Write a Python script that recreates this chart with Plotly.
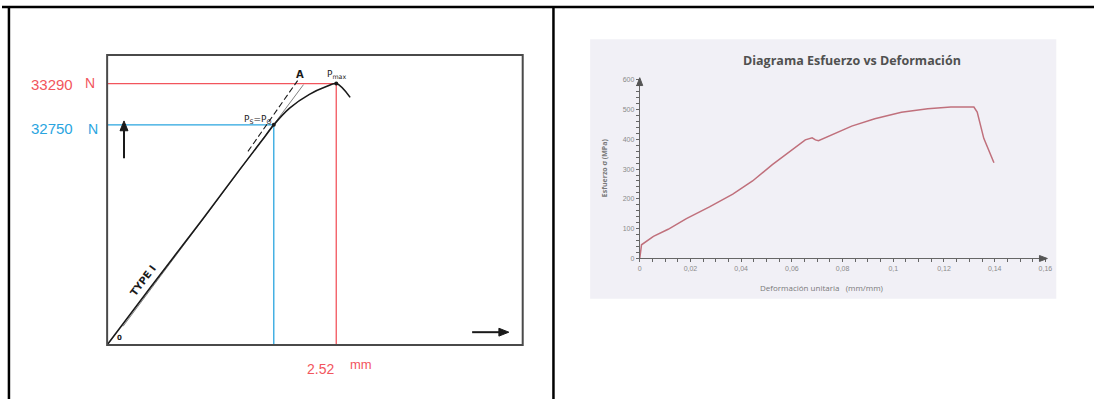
import plotly.graph_objects as go

W, H = 1101, 402

# ---- Left: offset-yield load/displacement diagram ----
disp_mm = [0, 0.48, 1.025, 1.462, 1.702, 1.833, 2.007, 2.225, 2.411, 2.52, 2.673]
load_N = [29870, 30629, 31477, 32171, 32544, 32750, 32969, 33149, 33251, 33290, 33110]
tangent_disp = [0.175, 2.16]
tangent_load = [30114, 33277]
offset_disp = [1.549, 2.095]
offset_load = [32403, 33329]
p_max_N = 33290
p_s_N = 32750
d_pmax_mm = 2.52
d_ps_mm = 1.833
disp_range = [0, 4.571]
load_range = [29870, 33663]

# ---- Right: stress vs unit strain ----
strain = [0, 0.0003, 0.0007, 0.0054, 0.0112, 0.0184, 0.0275, 0.0367, 0.0445, 0.0523,
          0.0601, 0.0653, 0.068, 0.0693, 0.0705, 0.0758, 0.0836, 0.0927, 0.1032, 0.1136,
          0.1227, 0.1318, 0.1331, 0.1357, 0.1377, 0.1397]
stress = [0, 30, 46, 74, 98, 134, 173, 216, 260, 315,
          365, 398, 405, 398, 395, 414, 444, 469, 491, 502,
          508, 508, 491, 403, 365, 321]
x_tick_vals = [0, 0.02, 0.04, 0.06, 0.08, 0.1, 0.12, 0.14, 0.16]
x_tick_labels = ["0", "0,02", "0,04", "0,06", "0,08", "0,1", "0,12", "0,14", "0,16"]
y_tick_vals = [0, 100, 200, 300, 400, 500, 600]
y_tick_labels = ["0", "100", "200", "300", "400", "500", "600"]


def px(x):
    return x / W


def py(y):
    return 1 - y / H


def path(points):
    return "M " + " L ".join(f"{px(x):.5f},{py(y):.5f}" for x, y in points) + " Z"


RED = "#f2555d"
BLUE = "#2aa5df"
INK = "#1a1a1a"
AXIS = "#666666"

fig = go.Figure()

# guide lines from the labelled values
fig.add_trace(go.Scatter(x=[0, d_pmax_mm, d_pmax_mm], y=[p_max_N, p_max_N, load_range[0]],
                         mode="lines", line=dict(color=RED, width=1.3), xaxis="x", yaxis="y"))
fig.add_trace(go.Scatter(x=[0, d_ps_mm, d_ps_mm], y=[p_s_N, p_s_N, load_range[0]],
                         mode="lines", line=dict(color=BLUE, width=1.3), xaxis="x", yaxis="y"))
# tangent and offset construction lines
fig.add_trace(go.Scatter(x=tangent_disp, y=tangent_load, mode="lines",
                         line=dict(color="#808080", width=1), xaxis="x", yaxis="y"))
fig.add_trace(go.Scatter(x=offset_disp, y=offset_load, mode="lines",
                         line=dict(color=INK, width=1.1, dash="6px,3px"), xaxis="x", yaxis="y"))
# measured curve
fig.add_trace(go.Scatter(x=disp_mm, y=load_N, mode="lines", line=dict(color=INK, width=1.6),
                         line_shape="spline", xaxis="x", yaxis="y"))
fig.add_trace(go.Scatter(x=[d_ps_mm, d_pmax_mm], y=[p_s_N, p_max_N], mode="markers",
                         marker=dict(color=INK, size=4), xaxis="x", yaxis="y"))

# stress-strain curve
fig.add_trace(go.Scatter(x=strain, y=stress, mode="lines", line=dict(color="#c0707c", width=1.5),
                         xaxis="x2", yaxis="y2"))

tick_font = dict(family="Liberation Sans", size=7, color="#8a8a8a")

fig.update_layout(
    width=W, height=H,
    margin=dict(l=0, r=0, t=0, b=0),
    paper_bgcolor="white", plot_bgcolor="rgba(0,0,0,0)",
    showlegend=False,
    xaxis=dict(domain=[px(106), px(525)], range=disp_range, visible=False, fixedrange=True),
    yaxis=dict(domain=[py(347), py(52)], range=load_range, visible=False, fixedrange=True),
    xaxis2=dict(domain=[px(643), px(1052)], range=[0, 0.16], anchor="y2",
                showgrid=False, zeroline=False, showline=True, linecolor=AXIS, linewidth=1,
                ticks="outside", ticklen=3, tickcolor=AXIS,
                tickvals=x_tick_vals, ticktext=x_tick_labels, tickfont=tick_font,
                minor=dict(tick0=0, dtick=0.005, ticks="outside", ticklen=3, tickcolor=AXIS,
                           showgrid=False)),
    yaxis2=dict(domain=[py(259), py(77)], range=[0, 600], anchor="x2",
                showgrid=False, zeroline=False, showline=True, linecolor=AXIS, linewidth=1,
                ticks="outside", ticklen=3, tickcolor=AXIS,
                tickvals=y_tick_vals, ticktext=y_tick_labels, tickfont=tick_font,
                minor=dict(tick0=0, dtick=20, ticks="outside", ticklen=3, tickcolor=AXIS,
                           showgrid=False)),
)

shapes = [
    # image panel background
    dict(type="rect", xref="paper", yref="paper", x0=px(593), x1=px(1063), y0=py(300), y1=py(36),
         fillcolor="#f1f0f6", line=dict(width=0), layer="below"),
    # diagram frame
    dict(type="rect", xref="x domain", yref="y domain", x0=0, x1=1, y0=0, y1=1,
         line=dict(color="#4a4a4a", width=2)),
    # table rules
    dict(type="line", xref="paper", yref="paper", x0=0, x1=1, y0=py(3), y1=py(3),
         line=dict(color="black", width=2.5)),
    dict(type="line", xref="paper", yref="paper", x0=px(7), x1=px(7), y0=0, y1=py(3),
         line=dict(color="black", width=2.5)),
    dict(type="line", xref="paper", yref="paper", x0=px(556), x1=px(556), y0=0, y1=py(3),
         line=dict(color="black", width=2.5)),
    # direction arrows of the diagram
    dict(type="line", xref="paper", yref="paper", x0=px(123), x1=px(123), y0=py(157), y1=py(127),
         line=dict(color=INK, width=2)),
    dict(type="path", xref="paper", yref="paper", path=path([(119, 129), (123, 119), (127, 129)]),
         fillcolor=INK, line=dict(color=INK, width=1)),
    dict(type="line", xref="paper", yref="paper", x0=px(474), x1=px(503), y0=py(334), y1=py(334),
         line=dict(color=INK, width=2)),
    dict(type="path", xref="paper", yref="paper", path=path([(501, 330), (511, 334), (501, 338)]),
         fillcolor=INK, line=dict(color=INK, width=1)),
    # axis arrowheads of the stress-strain chart
    dict(type="path", xref="paper", yref="paper", path=path([(1046, 256), (1054, 259), (1046, 262)]),
         fillcolor="#555555", line=dict(color="#555555", width=1)),
    dict(type="path", xref="paper", yref="paper", path=path([(640, 83), (643, 75), (646, 83)]),
         fillcolor="#555555", line=dict(color="#555555", width=1)),
]
fig.update_layout(shapes=shapes)

lab_font = "Liberation Sans"
ann = []


def text(x, y, s, size, color, family=lab_font, angle=0, xanchor="center"):
    ann.append(dict(x=px(x), y=py(y), xref="paper", yref="paper", text=s, showarrow=False,
                    font=dict(family=family, size=size, color=color), textangle=angle,
                    xanchor=xanchor, yanchor="middle"))


text(50, 82, f"{p_max_N}", 15, RED)
text(89, 80, "N", 14, RED)
text(50, 127, f"{p_s_N}", 15, BLUE)
text(92, 127, "N", 14, BLUE)
text(321, 371, f"{d_pmax_mm:.2f}", 14, RED)
text(362, 367, "mm", 13, RED)

sketch = "DejaVu Sans"
text(300, 72, "<b>A</b>", 10, INK, sketch)
text(337, 72, "P<sub>max</sub>", 9, INK, sketch)
text(258, 118, "P<sub>S</sub>=P<sub>Q</sub>", 9, INK, sketch)
text(142, 281, "<b>TYPE I</b>", 10, INK, sketch, angle=-53)
text(118, 340, "<b>0</b>", 7, INK, sketch)

# stress-strain titles
text(857, 57, "<b>Diagrama Esfuerzo vs Deformación</b>", 12.5, "#505050", "Open Sans")
text(827, 289, "Deformación unitaria   (mm/mm)", 8, "#7a7a7a", "Open Sans")
text(607, 167, "<b>Esfuerzo σ (MPa)</b>", 7, "#7a7a7a", "Open Sans", angle=-90)

fig.update_layout(annotations=ann)

fig.write_html("out.html")
